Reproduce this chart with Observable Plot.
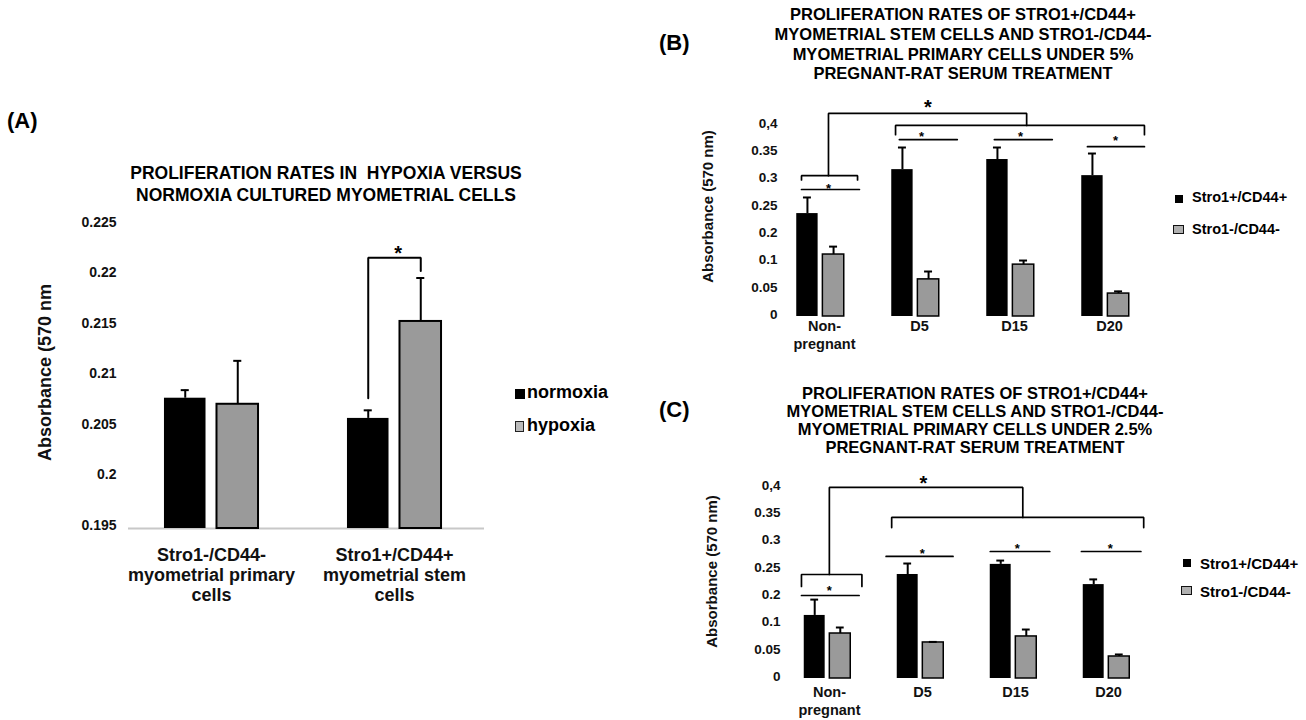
<!DOCTYPE html>
<html>
<head>
<meta charset="utf-8">
<script src="https://cdn.jsdelivr.net/npm/d3@7"></script>
<script src="https://cdn.jsdelivr.net/npm/@observablehq/plot@0.6"></script>
<style>
  html, body { margin: 0; padding: 0; background: #fff; }
  #root { position: relative; width: 1306px; height: 720px; overflow: hidden; background: #fff;
          font-family: "Liberation Sans", Arial, Helvetica, sans-serif; color: #000; }
  .t { position: absolute; font-weight: bold; white-space: pre; }
  .sq { position: absolute; box-sizing: border-box; }
</style>
</head>
<body>
<div id="root"></div>
<script>
// ---------------- DATA ----------------
// Panel A
const titleA = ["PROLIFERATION RATES IN  HYPOXIA VERSUS", "NORMOXIA CULTURED MYOMETRIAL CELLS"];
const yTitleA = "Absorbance (570 nm";
const groupsA = ["Stro1-/CD44-\nmyometrial primary\ncells", "Stro1+/CD44+\nmyometrial stem\ncells"];
const seriesA = ["normoxia", "hypoxia"];
const normoxiaA = [0.2079, 0.2059];
const normoxiaErrA = [0.2087, 0.2067];
const hypoxiaA = [0.2073, 0.2155];
const hypoxiaErrA = [0.2116, 0.2198];
const ticksA = [0.195, 0.2, 0.205, 0.21, 0.215, 0.22, 0.225];
const tickLabelsA = ["0.195", "0.2", "0.205", "0.21", "0.215", "0.22", "0.225"];

// Panels B and C
const titleB = ["PROLIFERATION RATES OF STRO1+/CD44+", "MYOMETRIAL STEM CELLS AND STRO1-/CD44-", "MYOMETRIAL PRIMARY CELLS UNDER 5%", "PREGNANT-RAT SERUM TREATMENT"];
const titleC = ["PROLIFERATION RATES OF STRO1+/CD44+", "MYOMETRIAL STEM CELLS AND STRO1-/CD44-", "MYOMETRIAL PRIMARY CELLS UNDER 2.5%", "PREGNANT-RAT SERUM TREATMENT"];
const yTitleBC = "Absorbance (570 nm)";
const groupsBC = ["Non-\npregnant", "D5", "D15", "D20"];
const seriesBC = ["Stro1+/CD44+", "Stro1-/CD44-"];
const stroPosB = [0.2385, 0.319, 0.3375, 0.308];
const stroPosErrB = [0.268, 0.3595, 0.3595, 0.3485];
const stroNegB = [0.127, 0.068, 0.095, 0.042];
const stroNegErrB = [0.156, 0.0824, 0.105, 0.046];
const stroPosC = [0.131, 0.2405, 0.259, 0.222];
const stroPosErrC = [0.189, 0.2606, 0.266, 0.2315];
const stroNegC = [0.0824, 0.066, 0.077, 0.0403];
const stroNegErrC = [0.0934, 0.067, 0.0897, 0.044];
const ticksBC = [0, 0.05, 0.1, 0.2, 0.25, 0.3, 0.35, 0.4];
const tickLabelsBC = ["0", "0.05", "0.1", "0.2", "0.25", "0.3", "0.35", "0,4"];
const panelLabels = ["(A)", "(B)", "(C)"];

// Significance annotations (x in group units, y in data units)
const bracketsA = [[[0.8565, 0.2079], [0.8565, 0.2218], [1.1435, 0.2218], [1.1435, 0.2205]]];
const starsA = [[1.02, 0.2227]];
const bracketsB = [
  [[0.084, 0.308], [0.084, 0.422], [2.17, 0.422], [2.17, 0.4]],
  [[0.79, 0.383], [0.79, 0.4], [3.41, 0.4], [3.41, 0.383]],
  [[-0.2, 0.3], [-0.2, 0.308], [0.39, 0.308], [0.39, 0.3]],
  [[-0.2, 0.2826], [0.41, 0.2826]],
  [[0.83, 0.374], [1.44, 0.374]],
  [[1.83, 0.374], [2.44, 0.374]],
  [[2.81, 0.361], [3.41, 0.361]]
];
const bigStarsB = [[1.13, 0.442]];
const smallStarsB = [[1.063, 0.385], [2.105, 0.385], [3.105, 0.378], [0.084, 0.29]];
const bracketsC = [
  [[0.02, 0.2405], [0.02, 0.4], [2.1, 0.4], [2.1, 0.345]],
  [[0.69, 0.3265], [0.69, 0.345], [3.4, 0.345], [3.4, 0.3265]],
  [[-0.28, 0.2185], [-0.28, 0.2405], [0.37, 0.2405], [0.37, 0.2185]],
  [[-0.28, 0.202], [0.34, 0.202]],
  [[0.63, 0.2735], [1.35, 0.2735]],
  [[1.75, 0.2826], [2.39, 0.2826]],
  [[2.73, 0.2826], [3.37, 0.2826]]
];
const bigStarsC = [[1.03, 0.4165]];
const smallStarsC = [[1.02, 0.2845], [2.04, 0.2935], [3.04, 0.2935], [0.02, 0.2167]];

// ---------------- HELPERS ----------------
const FONT = '"Liberation Sans", Arial, Helvetica, sans-serif';
const GRAY = "#9a9a9a";
const root = document.getElementById("root");

function rowsOf(groups, v1, e1, v2, e2) {
  return groups.flatMap((g, i) => [
    {i, side: -1, v: v1[i], e: e1[i]},
    {i, side: 1, v: v2[i], e: e2[i]}
  ]);
}
function flat(brs) { return brs.flatMap((pts, k) => pts.map(([x, y]) => ({k, x, y}))); }

function barMarks(rows, base, inner, outer, cap, grayStroke, errW) {
  const mid = (inner + outer) / 2;
  const cx = d => d.i + d.side * mid;
  const s1 = rows.filter(d => d.side < 0), s2 = rows.filter(d => d.side > 0);
  return [
    Plot.rectY(s1, {x1: d => d.i - outer, x2: d => d.i - inner, y1: base, y2: "v", fill: "#000"}),
    Plot.rectY(s2, {x1: d => d.i + inner, x2: d => d.i + outer, y1: base, y2: "v", fill: GRAY, stroke: "#000", strokeWidth: grayStroke}),
    Plot.ruleX(rows, {x: cx, y1: "v", y2: "e", stroke: "#000", strokeWidth: errW}),
    Plot.ruleY(rows, {y: "e", x1: d => cx(d) - cap, x2: d => cx(d) + cap, stroke: "#000", strokeWidth: errW})
  ];
}

function addText(lines, {left, top, width, size, lh, align = "center", extra = ""}) {
  const d = document.createElement("div");
  d.className = "t";
  d.style.cssText = `left:${left}px;top:${top}px;${width ? `width:${width}px;` : ""}font-size:${size}px;line-height:${lh}px;text-align:${align};${extra}`;
  d.textContent = lines.join("\n");
  root.appendChild(d);
  return d;
}
function addSquare(left, top, w, h, bg, border) {
  const d = document.createElement("div");
  d.className = "sq";
  d.style.cssText = `left:${left}px;top:${top}px;width:${w}px;height:${h}px;background:${bg};${border ? `border:${border};` : ""}`;
  root.appendChild(d);
}
function addPlot(svg, left, top) {
  const d = document.createElement("div");
  d.style.cssText = `position:absolute;left:${left}px;top:${top}px;`;
  d.appendChild(svg);
  root.appendChild(d);
}
const svgStyle = `font-family:${FONT};background:transparent;overflow:visible;max-width:none;`;

// ---------------- PANEL A ----------------
const rowsA = rowsOf(groupsA, normoxiaA, normoxiaErrA, hypoxiaA, hypoxiaErrA);
const plotA = Plot.plot({
  width: 500, height: 400,
  marginLeft: 128, marginRight: 16, marginTop: 25, marginBottom: 72,
  style: svgStyle,
  x: {type: "linear", domain: [0, 1], range: [211, 394], axis: null},
  y: {type: "linear", domain: [0.195, 0.225], range: [328, 25]},
  marks: [
    Plot.ruleY([0.195], {stroke: "#c8c8c8", strokeWidth: 2}),
    ...barMarks(rowsA, 0.195, 0.03, 0.257, 0.022, 2, 2),
    Plot.axisY({ticks: ticksA, tickFormat: d => tickLabelsA[ticksA.indexOf(d)], tickSize: 0, tickPadding: 12,
      fontSize: 14, fontWeight: "bold", label: null, dy: -3, fill: "#111"}),
    Plot.text(groupsA, {x: (d, i) => i, text: d => d, frameAnchor: "bottom", lineAnchor: "top", dy: 18.5,
      fontSize: 18, fontWeight: "bold", lineHeight: 1.11, fill: "#111"}),
    Plot.text([yTitleA], {frameAnchor: "left", textAnchor: "middle", rotate: -90, dx: -83, dy: -4.5, fontSize: 18, fontWeight: "bold", fill: "#111"}),
    Plot.line(flat(bracketsA), {x: "x", y: "y", z: "k", stroke: "#000", strokeWidth: 2, strokeLinejoin: "miter"}),
    Plot.text(starsA, {x: d => d[0], y: d => d[1], text: () => "*", fontSize: 20, fontWeight: "bold", lineAnchor: "middle", dy: 5.2})
  ]
});
addPlot(plotA, 0, 200);

// ---------------- PANELS B & C ----------------
function panelBC({pos, posErr, neg, negErr, xRange, y0, top, brackets, bigStars, smallStars, labelDy, labelLH, labelDx, tickPad, yTitleDx, yTitleDy}) {
  const s = 27.3;
  const rows = rowsOf(groupsBC, pos, posErr, neg, negErr);
  const height = top;
  return Plot.plot({
    width: 470, height: height,
    marginLeft: 91, marginRight: 10, marginTop: y0 - 7 * s, marginBottom: height - y0,
    style: svgStyle,
    x: {type: "linear", domain: [0, 3], range: xRange, axis: null},
    y: {type: "linear", domain: [0, 0.1, 0.2, 0.4], range: [y0, y0 - 2 * s, y0 - 3 * s, y0 - 7 * s]},
    marks: [
      ...barMarks(rows, 0, 0.025, 0.25, 0.042, 1.5, 2),
      Plot.axisY({ticks: ticksBC, tickFormat: d => tickLabelsBC[ticksBC.indexOf(d)], tickSize: 0, tickPadding: tickPad,
        fontSize: 13.5, fontWeight: "bold", label: null, dy: -2, fill: "#111"}),
      Plot.text(groupsBC, {x: (d, i) => i, text: d => d, frameAnchor: "bottom", lineAnchor: "top", dy: labelDy, dx: labelDx,
        fontSize: 14.5, fontWeight: "bold", lineHeight: labelLH, fill: "#111"}),
      Plot.text([yTitleBC], {frameAnchor: "left", textAnchor: "middle", rotate: -90, dx: yTitleDx, dy: yTitleDy, fontSize: 15, fontWeight: "bold", fill: "#111"}),
      Plot.line(flat(brackets), {x: "x", y: "y", z: "k", stroke: "#000", strokeWidth: 1.7, strokeLinejoin: "miter"}),
      Plot.text(bigStars, {x: d => d[0], y: d => d[1], text: () => "*", fontSize: 20, fontWeight: "bold", lineAnchor: "middle", dy: 5.2}),
      Plot.text(smallStars, {x: d => d[0], y: d => d[1], text: () => "*", fontSize: 13, fontWeight: "bold", lineAnchor: "middle", dy: 3.4})
    ]
  });
}

const plotB = panelBC({
  pos: stroPosB, posErr: stroPosErrB, neg: stroNegB, negErr: stroNegErrB,
  xRange: [130, 415], y0: 226, top: 270,
  brackets: bracketsB, bigStars: bigStarsB, smallStars: smallStarsB,
  labelDy: 2, labelLH: 1.24, labelDx: 4, tickPad: 4, yTitleDx: -73, yTitleDy: -14.5
});
addPlot(plotB, 690, 90);

const plotC = panelBC({
  pos: stroPosC, posErr: stroPosErrC, neg: stroNegC, negErr: stroNegErrC,
  xRange: [137, 416], y0: 218, top: 260,
  brackets: bracketsC, bigStars: bigStarsC, smallStars: smallStarsC,
  labelDy: 6, labelLH: 1.24, labelDx: 2, tickPad: 1, yTitleDx: -69, yTitleDy: -11.5
});
addPlot(plotC, 690, 460);

// ---------------- TITLES, LABELS, LEGENDS ----------------
addText(titleA, {left: 26, top: 162, width: 600, size: 17.5, lh: 22});
addText(titleB, {left: 663, top: 5.3, width: 600, size: 16.5, lh: 19.7});
addText(titleC, {left: 675, top: 384, width: 600, size: 16.5, lh: 18});

addText([panelLabels[0]], {left: 7, top: 108, size: 22, lh: 26, align: "left"});
addText([panelLabels[1]], {left: 659, top: 30, size: 22, lh: 26, align: "left"});
addText([panelLabels[2]], {left: 659, top: 397, size: 22, lh: 26, align: "left"});

// Legend A
addSquare(515, 389, 10, 10, "#000");
addText([seriesA[0]], {left: 527, top: 382, size: 18, lh: 20, align: "left"});
addSquare(515, 421, 9, 11, "#bbb", "1.5px solid #222");
addText([seriesA[1]], {left: 527, top: 415, size: 18, lh: 20, align: "left"});

// Legend B
addSquare(1175, 195, 8, 8, "#000");
addText([seriesBC[0]], {left: 1192, top: 188.7, size: 14.5, lh: 17, align: "left"});
addSquare(1173, 225, 11, 9, "#b0b0b0", "1.5px solid #111");
addText([seriesBC[1]], {left: 1192, top: 220.7, size: 14.5, lh: 17, align: "left"});

// Legend C
addSquare(1183, 559, 8, 8, "#000");
addText([seriesBC[0]], {left: 1200, top: 554.7, size: 15, lh: 17, align: "left"});
addSquare(1181, 586, 11, 9, "#b0b0b0", "1.5px solid #111");
addText([seriesBC[1]], {left: 1200, top: 582.7, size: 15, lh: 17, align: "left"});
</script>
</body>
</html>
